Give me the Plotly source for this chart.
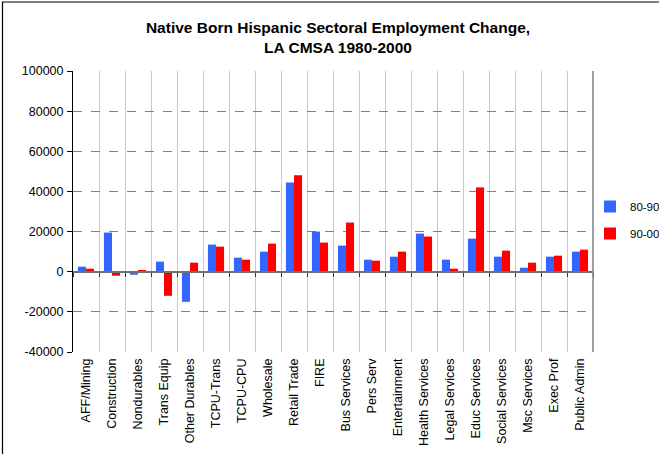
import plotly.graph_objects as go

categories = ["AFF/Mining", "Construction", "Nondurables", "Trans Equip", "Other Durables",
              "TCPU-Trans", "TCPU-CPU", "Wholesale", "Retail Trade", "FIRE",
              "Bus Services", "Pers Serv", "Entertainment", "Health Services", "Legal Services",
              "Educ Services", "Social Services", "Msc Services", "Exec Prof", "Public Admin"]
s8090 = [2500, 19500, -1500, 5000, -15000, 13500, 7000, 10000, 44500, 20000,
         13000, 6000, 7500, 19000, 6000, 16500, 7500, 2000, 7500, 10000]
s9000 = [1500, -2000, 500, -12000, 4500, 12500, 6000, 14000, 48000, 14500,
         24500, 5500, 10000, 17500, 1500, 42000, 10500, 4500, 8000, 11000]
yticks = [-40000, -20000, 0, 20000, 40000, 60000, 80000, 100000]
ymin, ymax = -40000, 100000

W, H = 659, 454
L, R, T, B = 73, 66, 71, 102
pw, ph = W - L - R, H - T - B

font = "Liberation Sans, Arial, sans-serif"

fig = go.Figure()
fig.add_trace(go.Bar(name="80-90", x=categories, y=s8090, legendgroup="a",
                     marker=dict(color="#3366FF", line=dict(width=0))))
fig.add_trace(go.Bar(name="90-00", x=categories, y=s9000, legendgroup="b",
                     marker=dict(color="#FF0000", line=dict(width=0))))

zero_frac = (0 - ymin) / (ymax - ymin)
n = len(categories)

fig.update_layout(
    width=W, height=H,
    margin=dict(l=L, r=R, t=T, b=B, autoexpand=False),
    paper_bgcolor="white", plot_bgcolor="white",
    barmode="group", bargap=0.38, bargroupgap=0,
    font=dict(family=font, size=12, color="black"),
    title=dict(text="<b>Native Born Hispanic Sectoral Employment Change,<br>LA CMSA 1980-2000</b>",
               x=338 / W, xanchor="center", y=1 - 33 / H, yanchor="top",
               font=dict(family=font, size=15.5, color="black")),
    showlegend=True,
    legend=dict(x=(590 - L) / pw, xanchor="left", y=(352 - 192) / ph,
                yanchor="top", font=dict(family=font, size=11.5), tracegroupgap=8,
                traceorder="grouped", itemwidth=30, bgcolor="rgba(0,0,0,0)"),
    xaxis=dict(type="category", categoryorder="array", categoryarray=categories,
               tickson="boundaries", showgrid=True, gridcolor="#C8C8C8", gridwidth=1,
               ticks="", tickangle=-90, showline=False, range=[-0.5, n - 0.5],
               ticklabelstandoff=3,
               tickfont=dict(family=font, size=12.5)),
    xaxis2=dict(overlaying="x", anchor="free", position=zero_frac, type="linear",
                range=[-0.5, n - 0.5], tickvals=[i - 0.5 for i in range(n + 1)],
                showticklabels=False, ticks="outside", ticklen=4, tickwidth=1, tickcolor="#333333",
                showline=True, linecolor="#707070", linewidth=2, showgrid=False, zeroline=False),
    yaxis=dict(range=[ymin, ymax], tickvals=yticks, ticktext=[str(v) for v in yticks],
               showgrid=True, gridcolor="#808080", griddash="dash", gridwidth=1,
               zeroline=False, showline=True, linecolor="black", linewidth=1,
               ticks="outside", ticklen=5, tickcolor="black", ticklabelstandoff=1,
               tickfont=dict(family=font, size=12.5)),
    shapes=[
        dict(type="line", xref="paper", yref="paper", x0=1, x1=1, y0=0, y1=1,
             line=dict(color="#808080", width=1.5)),
        dict(type="rect", xref="paper", yref="paper",
             x0=(2.5 - L) / pw, x1=(W + 10 - L) / pw, y0=-(H + 10 - T - ph) / ph, y1=(T + ph - 2) / ph,
             line=dict(color="black", width=1.2), fillcolor="rgba(0,0,0,0)", layer="above"),
    ],
)
# invisible trace to register xaxis2
fig.add_trace(go.Scatter(x=[0], y=[0], xaxis="x2", mode="markers", marker=dict(opacity=0),
                         showlegend=False, hoverinfo="skip"))

fig.write_html("out.html")
